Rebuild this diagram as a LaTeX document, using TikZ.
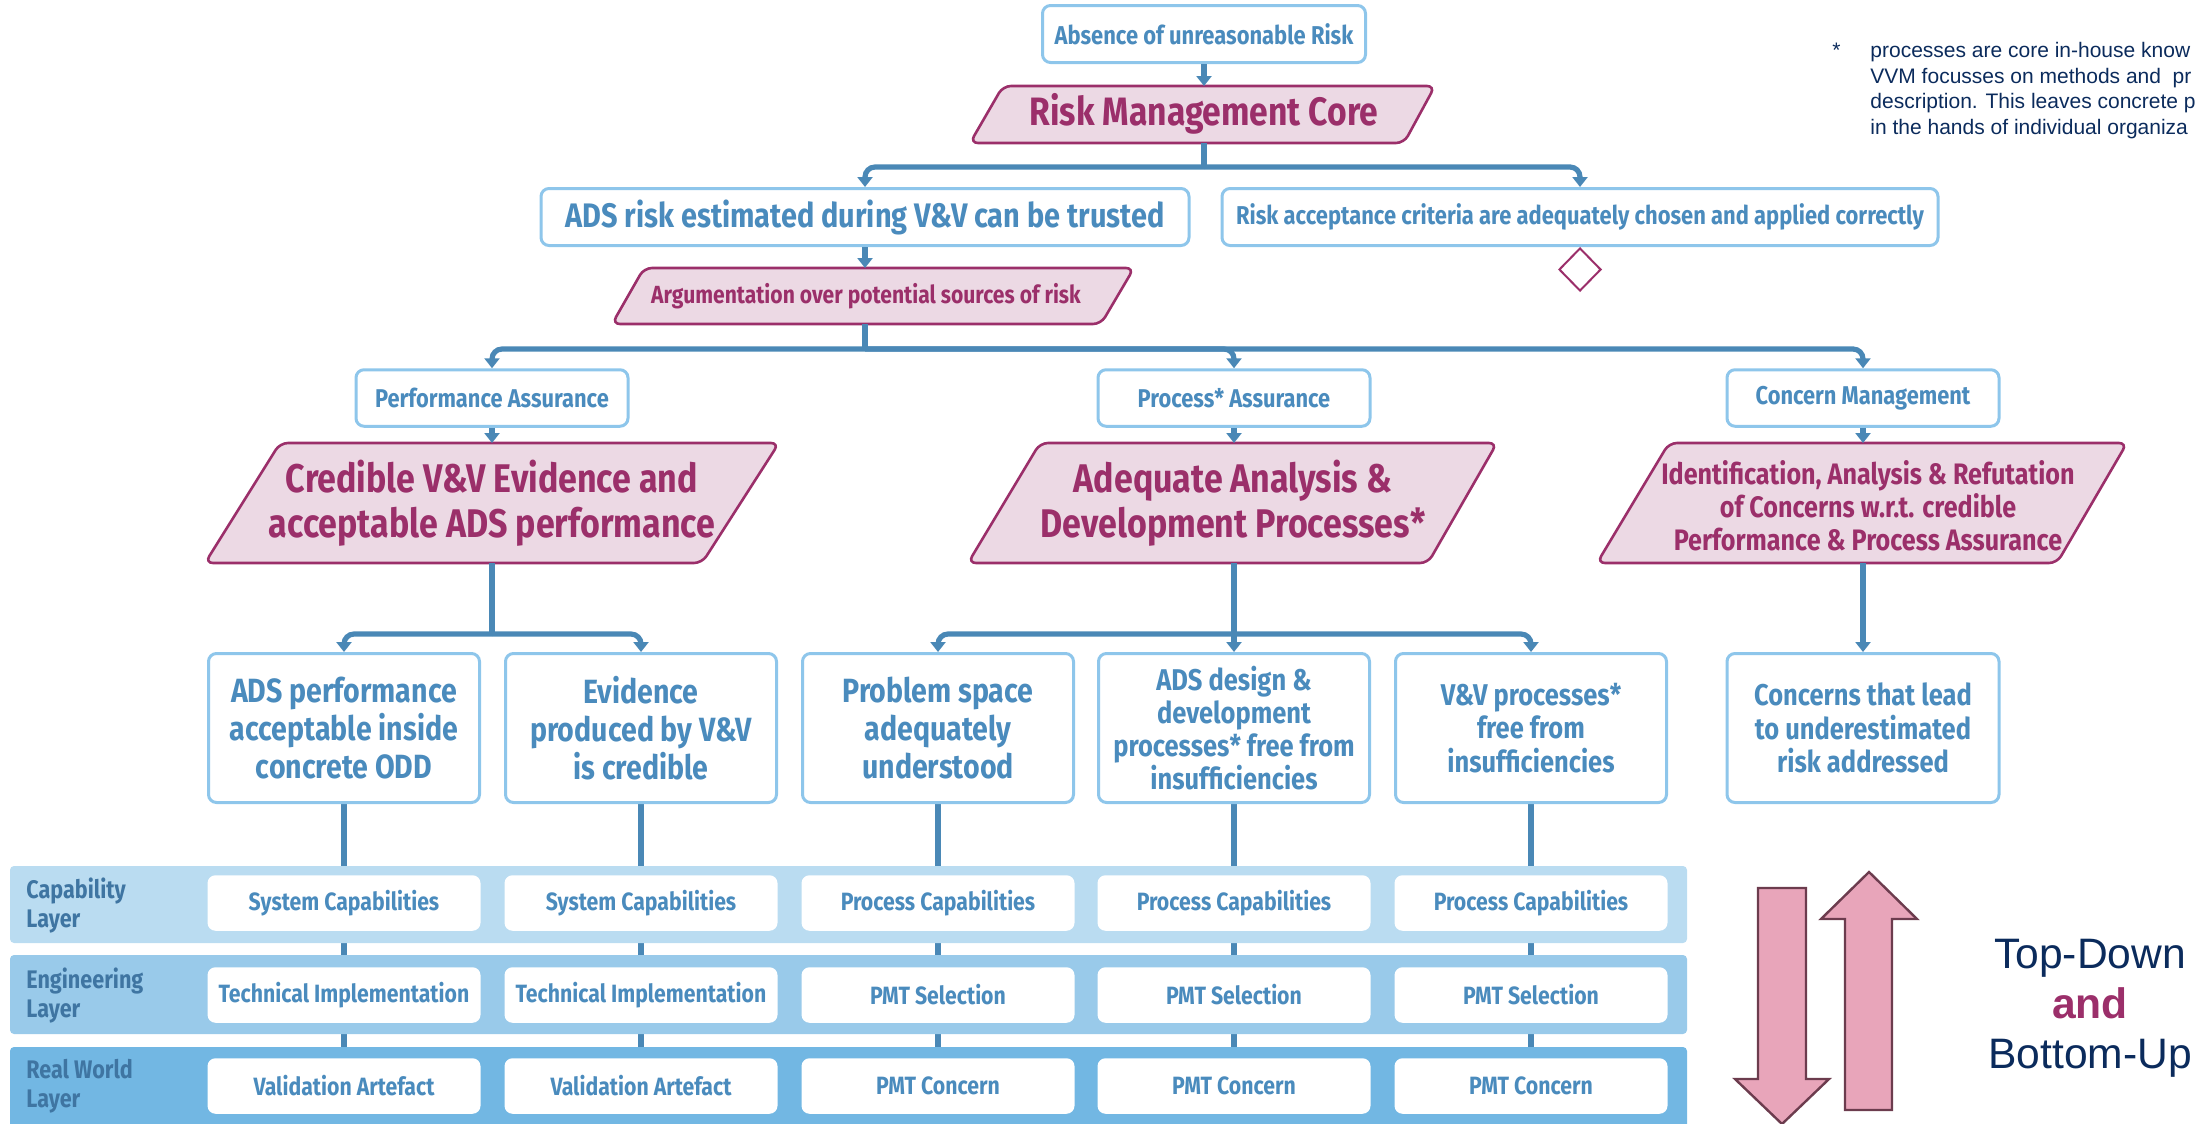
\documentclass[tikz,border=0pt]{standalone}
\usepackage{fontspec}
\setmainfont{Fira Sans}[FakeStretch=0.85]
\newfontfamily\arialfont{Liberation Sans}
\usetikzlibrary{arrows.meta,shapes.geometric}

\definecolor{txtblue}{HTML}{4A8BBD}
\definecolor{boxblue}{HTML}{8EC6EB}
\definecolor{wireblue}{HTML}{4A88B6}
\definecolor{coremag}{HTML}{9B2F6A}
\definecolor{corefill}{HTML}{ECD9E4}
\definecolor{bandone}{HTML}{BADCF1}
\definecolor{bandtwo}{HTML}{99CAEA}
\definecolor{bandthree}{HTML}{72B7E3}
\definecolor{layertxt}{HTML}{3F75A2}
\definecolor{arrowpink}{HTML}{E8A5BA}
\definecolor{arrowedge}{HTML}{6C3C4E}
\definecolor{navy}{HTML}{0B2B5C}

\pgfdeclarelayer{wires}
\pgfdeclarelayer{bands}
\pgfsetlayers{wires,bands,main}

\newcommand{\fsz}[2]{\fontsize{#1}{#2}\selectfont}

\tikzset{
  goal/.style={draw=boxblue, line width=1.5pt, rounded corners=4pt, fill=white,
    text=txtblue, align=center, inner sep=0pt},
  coreshape/.style={draw=coremag, fill=corefill, line width=1.3pt, rounded corners=4pt},
  coretext/.style={text=coremag, align=center, inner sep=0pt},
  wire/.style={draw=wireblue, line width=2.6pt},
  arr/.style={wire, rounded corners=5pt, -{Triangle[width=7.5pt,length=5pt]}},
  cell/.style={fill=white, rounded corners=4pt, minimum width=136.5pt, minimum height=27.75pt,
    inner sep=0pt, text=txtblue, font=\bfseries\fsz{12.5}{15}},
  layerlbl/.style={text=layertxt, align=left, inner sep=0pt, font=\bfseries\fsz{12.7}{14.5}},
  bigarrow/.style={draw=arrowedge, fill=arrowpink, line width=1.2pt}
}

\begin{document}
\begin{tikzpicture}[x=0.5pt,y=-0.5pt]
  \useasboundingbox (0,0) rectangle (2195,1124);

  % top of the argument
  \node[goal, minimum width=161.5pt, minimum height=28.5pt, font=\bfseries\fsz{12.9}{15}]
    (abs) at (1204,34) {Absence of unreasonable Risk};
  \draw[coreshape] (1003,86) -- (1435,86) -- (1404,143) -- (970,143) -- cycle;
  \node[coretext, font=\bfseries\fsz{19.8}{22.5}] (rmc) at (1204,114) {Risk Management Core};
  \coordinate (rmc-n) at (1204,86);
  \coordinate (rmc-s) at (1204,143);
  \coordinate (split1) at (1204,167);

  \node[goal, minimum width=324pt, minimum height=28.5pt, font=\bfseries\fsz{17}{19}]
    (trust) at (865,217) {ADS risk estimated during V\&V can be trusted};
  \node[goal, minimum width=358pt, minimum height=28.5pt, font=\bfseries\fsz{12.9}{15}]
    (accept) at (1580,217) {Risk acceptance criteria are adequately chosen and applied correctly};
  \node[diamond, draw=coremag, line width=1pt, fill=white, minimum width=21pt, minimum height=21.5pt,
    inner sep=0pt, anchor=north] (accdia) at (accept.south) {};

  \draw[coreshape] (644,268) -- (1134,268) -- (1101,324) -- (612,324) -- cycle;
  \node[coretext, font=\bfseries\fsz{12.4}{14}] (arg) at (866,296) {Argumentation over potential sources of risk};
  \coordinate (arg-n) at (865,268);
  \coordinate (arg-s) at (865,324);
  \coordinate (split2) at (865,349);

  % assurance branches
  \node[goal, minimum width=136pt, minimum height=28.25pt, font=\bfseries\fsz{12.85}{15}]
    (perf) at (492,398) {Performance Assurance};
  \node[goal, minimum width=136pt, minimum height=28.25pt, font=\bfseries\fsz{12.85}{15}]
    (proc) at (1234,398) {Process* Assurance};
  \node[goal, minimum width=136pt, minimum height=28.25pt, font=\bfseries\fsz{12.85}{15}]
    (conc) at (1863,398) {Concern Management};

  \draw[coreshape] (280,443) -- (779,443) -- (702,563) -- (205,563) -- cycle;
  \node[coretext, font=\bfseries\fsz{20}{22.5}] (cred) at (492,503)
    {Credible V\&V Evidence and\\acceptable ADS performance};
  \draw[coreshape] (1040,443) -- (1497,443) -- (1428,563) -- (968,563) -- cycle;
  \node[coretext, font=\bfseries\fsz{20}{22.5}] (adeq) at (1233,503)
    {Adequate Analysis \&\\Development Processes*};
  \draw[coreshape] (1669,443) -- (2127,443) -- (2057,563) -- (1597,563) -- cycle;
  \node[coretext, font=\bfseries\fsz{14.8}{16.5}] (ident) at (1868,506)
    {Identification, Analysis \& Refutation\\of Concerns w.r.t. credible\\Performance \& Process Assurance};
  \coordinate (cred-n) at (492,443);
  \coordinate (cred-s) at (492,563);
  \coordinate (adeq-n) at (1234,443);
  \coordinate (adeq-s) at (1234,563);
  \coordinate (ident-n) at (1863,443);
  \coordinate (ident-s) at (1863,563);
  \coordinate (split3) at (492,634);
  \coordinate (split4) at (1234,634);

  % sub goals
  \node[goal, minimum width=135.5pt, minimum height=74.5pt, font=\bfseries\fsz{16.8}{19}]
    (g1) at (344,728) {ADS performance\\acceptable inside\\concrete ODD};
  \node[goal, minimum width=135.5pt, minimum height=74.5pt, font=\bfseries\fsz{16.8}{19}]
    (g2) at (641,728) {Evidence\\produced by V\&V\\is credible};
  \node[goal, minimum width=135.5pt, minimum height=74.5pt, font=\bfseries\fsz{16.8}{19}]
    (g3) at (938,728) {Problem space\\adequately\\understood};
  \node[goal, minimum width=135.5pt, minimum height=74.5pt, font=\bfseries\fsz{15}{16.5}]
    (g4) at (1234,728) {ADS design \&\\development\\processes* free from\\insufficiencies};
  \node[goal, minimum width=135.5pt, minimum height=74.5pt, font=\bfseries\fsz{15}{16.8}]
    (g5) at (1531,728) {V\&V processes*\\free from\\insufficiencies};
  \node[goal, minimum width=136pt, minimum height=74.5pt, font=\bfseries\fsz{15}{16.8}]
    (g6) at (1863,728) {Concerns that lead\\to underestimated\\risk addressed};

  % connectors
  \draw[arr] (abs.south) -- (rmc-n);
  \draw[wire] (rmc-s) -- (split1);
  \draw[arr] (split1) -| (trust.north);
  \draw[arr] (split1) -| (accept.north);
  \draw[arr] (trust.south) -- (arg-n);
  \draw[wire] (arg-s) -- (split2);
  \draw[arr] (split2) -| (perf.north);
  \draw[arr] (split2) -| (proc.north);
  \draw[arr] (split2) -| (conc.north);
  \draw[arr] (perf.south) -- (cred-n);
  \draw[arr] (proc.south) -- (adeq-n);
  \draw[arr] (conc.south) -- (ident-n);
  \draw[wire] (cred-s) -- (split3);
  \draw[arr] (split3) -| (g1.north);
  \draw[arr] (split3) -| (g2.north);
  \draw[wire] (adeq-s) -- (split4);
  \draw[arr] (split4) -| (g3.north);
  \draw[arr] (split4) -- (g4.north);
  \draw[arr] (split4) -| (g5.north);
  \draw[arr] (ident-s) -- (g6.north);

  % layers
  \foreach \i/\x/\c/\e/\r in {1/344/System Capabilities/Technical Implementation/Validation Artefact,
      2/641/System Capabilities/Technical Implementation/Validation Artefact,
      3/938/Process Capabilities/PMT Selection/PMT Concern,
      4/1234/Process Capabilities/PMT Selection/PMT Concern,
      5/1531/Process Capabilities/PMT Selection/PMT Concern} {
    \node[cell] (cap\i) at (\x,903) {\c};
    \node[cell] (eng\i) at (\x,995) {\e};
    \node[cell] (rw\i) at (\x,1086) {\r};
  }
  \begin{pgfonlayer}{wires}
    \foreach \i in {1,...,5}
      \draw[wire] (g\i.south) -- (rw\i.north);
  \end{pgfonlayer}
  \begin{pgfonlayer}{bands}
    \fill[bandone, rounded corners=2pt] (10,866) rectangle (1687,943);
    \fill[bandtwo, rounded corners=2pt] (10,955) rectangle (1687,1034);
    \fill[bandthree, rounded corners=2pt] (10,1047) rectangle (1687,1134);
  \end{pgfonlayer}
  \node[layerlbl, anchor=west] (lcap) at (26,906) {Capability\\Layer};
  \node[layerlbl, anchor=west] (leng) at (26,996) {Engineering\\Layer};
  \node[layerlbl, anchor=west] (lrw) at (26,1086) {Real World\\Layer};

  % top-down / bottom-up
  \draw[bigarrow] (1758,888) -- (1806,888) -- (1806,1079) -- (1829,1079) -- (1782,1124)
    -- (1735,1079) -- (1758,1079) -- cycle;
  \draw[bigarrow] (1845,1110) -- (1892,1110) -- (1892,919) -- (1917,919) -- (1869,872)
    -- (1821,919) -- (1845,919) -- cycle;
  \node[text=navy, align=center, inner sep=0pt, font=\arialfont\fsz{21.3}{25}] (tdbu) at (2090,1008)
    {Top-Down\\\textcolor{coremag}{\bfseries and}\\Bottom-Up};

  % footnote
  \node[text=navy, inner sep=0pt, anchor=base west, font=\arialfont\fsz{10.5}{12.8}] (fnstar) at (1832,57) {*};
  \node[text=navy, align=left, inner sep=0pt, anchor=north west, font=\arialfont\fsz{10.5}{12.8}]
    (fntext) at (1870,42) {processes are core in-house know\\VVM focusses on methods and\ \ pr\\description. This leaves concrete p\\in the hands of individual organiza};
\end{tikzpicture}
\end{document}
